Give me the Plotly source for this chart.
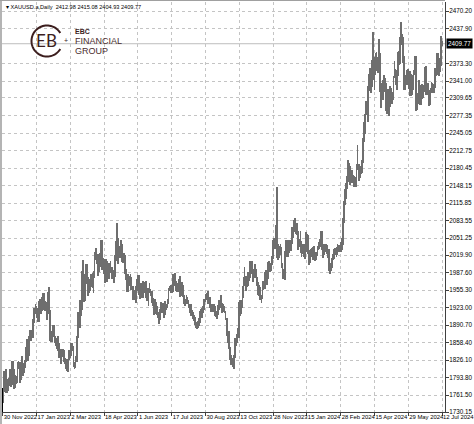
import math
import plotly.graph_objects as go

# ---------------- data (XAUUSD daily) ----------------
symbol = "XAUUSD.a,Daily"
last_ohlc = [2412.98, 2415.08, 2404.93, 2409.77]

date_labels = ["30 Nov 2022", "17 Jan 2023", "2 Mar 2023", "18 Apr 2023", "1 Jun 2023",
               "17 Jul 2023", "30 Aug 2023", "13 Oct 2023", "28 Nov 2023", "15 Jan 2024",
               "28 Feb 2024", "15 Apr 2024", "29 May 2024", "12 Jul 2024"]
bars_per_label = 32

price_ticks = [2470.20, 2437.90, 2373.30, 2341.00, 2309.65, 2277.35, 2245.05, 2212.75,
               2180.45, 2148.15, 2115.85, 2083.55, 2051.25, 2019.90, 1987.60, 1955.30,
               1923.00, 1890.70, 1858.40, 1826.10, 1793.80, 1761.50, 1730.15]

highs = [
    # 30 Nov 2022 -> 17 Jan 2023
    1769, 1805, 1804,
    1810, 1779, 1791, 1793, 1810,
    1799, 1825, 1824, 1809, 1799,
    1797, 1822, 1825, 1823, 1805,
    1833, 1816, 1821, 1826,
    1850, 1865, 1858, 1870,
    1881, 1881, 1882, 1901, 1922,
    1929, 1925,
    # -> 2 Mar 2023
    1923, 1935, 1938,
    1935, 1942, 1949, 1949, 1935,
    1934, 1932, 1952, 1960, 1918,
    1880, 1880, 1890, 1890, 1871,
    1866, 1871, 1858, 1846, 1845,
    1847, 1846, 1845, 1830, 1828,
    1824, 1828, 1845, 1842,
    # -> 18 Apr 2023
    1858,
    1858, 1852, 1823, 1834, 1870,
    1914, 1913, 1937, 1933, 1990,
    2010, 1984, 1972, 2003, 2004,
    1980, 1975, 1974, 1984, 1987,
    1990, 2026, 2032, 2022,
    2021, 2010, 2023, 2048, 2048,
    2014, 2012,
    # -> 1 Jun 2023
    2008, 2013, 2008,
    1995, 2005, 2009, 1998, 1998,
    1993, 2019, 2045, 2079, 2051,
    2025, 2037, 2048, 2040, 2021,
    2023, 2020, 1994, 1985, 1984,
    1982, 1984, 1980, 1963, 1955,
    1950, 1963, 1975, 1983,
    # -> 17 Jul 2023
    1983,
    1964, 1969, 1966, 1972, 1970,
    1965, 1972, 1959, 1959, 1968,
    1958, 1953, 1940, 1935, 1938,
    1934, 1925, 1915, 1911, 1921,
    1933, 1930, 1931, 1922, 1935,
    1930, 1938, 1959, 1963, 1964,
    1957,
    # -> 30 Aug 2023
    1985, 1983, 1987, 1972,
    1967, 1968, 1975, 1982, 1962,
    1970, 1965, 1947, 1938, 1946,
    1943, 1937, 1930, 1929, 1918,
    1915, 1910, 1905, 1897, 1892,
    1898, 1903, 1917, 1921, 1923,
    1925, 1939, 1948,
    # -> 13 Oct 2023
    1949, 1953,
    1943, 1942, 1930, 1925, 1930,
    1930, 1925, 1917, 1916, 1928,
    1937, 1937, 1947, 1931, 1930,
    1926, 1917, 1903, 1880, 1880,
    1850, 1835, 1830, 1826, 1835,
    1866, 1867, 1875, 1885, 1933,
    # -> 28 Nov 2023
    1936, 1936, 1962, 1980, 1997,
    1982, 1978, 1988, 1989, 2009,
    2009, 2008, 1991, 1994, 2004,
    1994, 1979, 1970, 1965, 1961,
    1947, 1971, 1971, 1988, 1993,
    1984, 2007, 2008, 1998, 2006,
    2018, 2048,
    # -> 15 Jan 2024
    2052, 2047, 2075,
    2146, 2040, 2036, 2040, 2035,
    2006, 1994, 2028, 2048, 2047,
    2032, 2047, 2044, 2048, 2071,
    2069, 2084, 2088, 2073,
    2079, 2065, 2050, 2064,
    2045, 2040, 2039, 2040, 2062,
    2059,
    # -> 28 Feb 2024
    2056, 2030, 2025, 2031,
    2033, 2035, 2037, 2024, 2025,
    2036, 2043, 2050, 2065, 2065,
    2040, 2039, 2041, 2041, 2038,
    2031, 2031, 1997, 2006, 2015,
    2022, 2031, 2033, 2035, 2041,
    2039, 2038, 2043,
    # -> 15 Apr 2024
    2052, 2089,
    2119, 2142, 2152, 2165, 2195,
    2189, 2185, 2175, 2176, 2167,
    2165, 2164, 2187, 2223, 2188,
    2176, 2185, 2195, 2236,
    2266, 2281, 2305, 2305, 2331,
    2354, 2365, 2360, 2379, 2431,
    2385,
    # -> 29 May 2024
    2392, 2395, 2386, 2418,
    2392, 2336, 2338, 2342, 2352,
    2346, 2337, 2326, 2326, 2319,
    2331, 2329, 2320, 2351, 2378,
    2364, 2361, 2395, 2397, 2422,
    2450, 2428, 2423, 2387, 2346,
    2352, 2361, 2364,
    # -> 12 Jul 2024
    2349, 2360,
    2354, 2353, 2362, 2388, 2387,
    2314, 2318, 2342, 2325, 2333,
    2335, 2334, 2333, 2366, 2368,
    2336, 2337, 2324, 2329, 2339,
    2338, 2335, 2365, 2364, 2392,
    2393, 2370, 2383, 2424, 2415,
]

lows = [
    # 30 Nov 2022 -> 17 Jan 2023
    1746, 1767, 1781,
    1765, 1765, 1768, 1779, 1787,
    1776, 1780, 1801, 1773, 1775,
    1781, 1784, 1810, 1784, 1790,
    1797, 1796, 1802, 1812,
    1823, 1838, 1825, 1833,
    1866, 1862, 1867, 1867, 1895,
    1911, 1904,
    # -> 2 Mar 2023
    1896, 1897, 1921,
    1911, 1917, 1932, 1918, 1916,
    1916, 1900, 1920, 1911, 1861,
    1860, 1860, 1869, 1857, 1852,
    1847, 1843, 1830, 1829, 1818,
    1835, 1832, 1823, 1819, 1809,
    1805, 1804, 1827, 1830,
    # -> 18 Apr 2023
    1834,
    1842, 1813, 1809, 1812, 1823,
    1866, 1895, 1886, 1907, 1918,
    1965, 1934, 1935, 1966, 1971,
    1944, 1949, 1953, 1960, 1959,
    1950, 1978, 2010, 2004,
    1981, 1989, 1997, 2012, 1992,
    1992, 1985,
    # -> 1 Jun 2023
    1969, 1991, 1970,
    1975, 1975, 1986, 1975, 1975,
    1969, 1979, 2009, 2035, 2004,
    2015, 2014, 2022, 2007, 2006,
    2008, 1985, 1973, 1952, 1952,
    1962, 1956, 1955, 1936, 1937,
    1939, 1932, 1953, 1957,
    # -> 17 Jul 2023
    1946,
    1938, 1955, 1940, 1940, 1955,
    1949, 1940, 1935, 1925, 1950,
    1945, 1932, 1925, 1910, 1911,
    1916, 1910, 1903, 1893, 1900,
    1913, 1920, 1912, 1903, 1910,
    1918, 1923, 1929, 1954, 1950,
    1949,
    # -> 30 Aug 2023
    1952, 1968, 1962, 1953,
    1952, 1952, 1956, 1942, 1945,
    1952, 1942, 1929, 1925, 1929,
    1930, 1922, 1913, 1907, 1910,
    1902, 1899, 1890, 1886, 1884,
    1885, 1889, 1894, 1911, 1904,
    1913, 1918, 1933,
    # -> 13 Oct 2023
    1936, 1930,
    1935, 1922, 1915, 1914, 1915,
    1916, 1908, 1905, 1901, 1909,
    1919, 1926, 1922, 1913, 1915,
    1912, 1900, 1871, 1857, 1846,
    1827, 1816, 1816, 1813, 1810,
    1830, 1852, 1857, 1867, 1867,
    # -> 28 Nov 2023
    1908, 1911, 1922, 1940, 1963,
    1953, 1960, 1962, 1971, 1977,
    1991, 1984, 1970, 1977, 1983,
    1977, 1962, 1947, 1944, 1937,
    1932, 1938, 1955, 1957, 1972,
    1965, 1975, 1989, 1988, 1990,
    2001, 2013,
    # -> 15 Jan 2024
    2035, 2031, 2031,
    2015, 2010, 2015, 2019, 1995,
    1976, 1975, 1973, 2020, 2017,
    2016, 2024, 2030, 2028, 2041,
    2052, 2065, 2063, 2058,
    2057, 2030, 2034, 2024,
    2016, 2022, 2016, 2013, 2026,
    2047,
    # -> 28 Feb 2024
    2021, 2001, 2005, 2021,
    2017, 2011, 2012, 2009, 2011,
    2018, 2030, 2031, 2035, 2030,
    2014, 2020, 2028, 2025, 2021,
    2015, 1990, 1984, 1990, 1996,
    2010, 2013, 2020, 2016, 2020,
    2025, 2026, 2025,
    # -> 15 Apr 2024
    2030, 2038,
    2079, 2112, 2124, 2142, 2154,
    2174, 2150, 2152, 2154, 2152,
    2146, 2146, 2146, 2177, 2157,
    2162, 2170, 2172, 2190,
    2229, 2244, 2278, 2282, 2266,
    2322, 2336, 2319, 2330, 2342,
    2324,
    # -> 29 May 2024
    2353, 2359, 2355, 2368,
    2320, 2291, 2308, 2306, 2326,
    2321, 2285, 2280, 2294, 2277,
    2293, 2309, 2298, 2306, 2346,
    2333, 2325, 2351, 2370, 2373,
    2413, 2408, 2374, 2325, 2325,
    2333, 2335, 2334,
    # -> 12 Jul 2024
    2326, 2314,
    2314, 2316, 2325, 2353, 2286,
    2287, 2298, 2307, 2296, 2297,
    2308, 2309, 2321, 2327, 2316,
    2317, 2315, 2294, 2297, 2318,
    2318, 2318, 2328, 2350, 2353,
    2353, 2350, 2358, 2369, 2405,
]

# ---------------- layout geometry (pixels) ----------------
W, H = 474, 424
PL, PR, PT, PB = 2, 445, 2, 412          # plot area edges in pixels
def PX(x):
    return (x - PL) / (PR - PL)
def PY(y):
    return (PB - y) / (PB - PT)

Y0 = 1730.15
YTOP = 1730.15 + (PB - PT) * (2470.20 - 1730.15) / (PB - 11)

INK = "#3c1e1e"

bars = list(range(len(highs)))
fig = go.Figure()
fig.add_trace(go.Bar(
    x=bars, y=[h - l for h, l in zip(highs, lows)], base=lows,
    width=0.8, marker=dict(color="#6e6e6e", line=dict(width=0)),
    hoverinfo="skip", showlegend=False))

tickfont = dict(family="Liberation Sans, Arial, sans-serif", size=6.3, color="#000000")
xtickfont = dict(family="Liberation Sans, Arial, sans-serif", size=5.9, color="#000000")

fig.update_layout(
    width=W, height=H,
    margin=dict(l=PL, r=W - PR, t=PT, b=H - PB, pad=0),
    paper_bgcolor="white", plot_bgcolor="white",
    showlegend=False, bargap=0,
    xaxis=dict(
        range=[-0.66, 418.8], automargin=False,
        tickvals=[i * bars_per_label for i in range(len(date_labels))],
        ticktext=date_labels, ticks="outside", ticklen=3, tickcolor="#404040",
        ticklabelposition="outside right", ticklabeloverflow="allow",
        ticklabelstandoff=-1, tickangle=0,
        tickfont=xtickfont,
        showgrid=True, gridcolor="#c4c4c4", griddash="dot", gridwidth=1,
        showline=True, linecolor="#404040", linewidth=1, zeroline=False,
    ),
    yaxis=dict(
        range=[Y0, YTOP], automargin=False, side="right",
        tickvals=price_ticks, ticktext=[f"{v:.2f}" for v in price_ticks],
        ticks="outside", ticklen=3, tickcolor="#404040", tickfont=tickfont,
        ticklabeloverflow="allow", ticklabelstandoff=-1,
        showgrid=True, gridcolor="#c4c4c4", griddash="dot", gridwidth=1,
        showline=True, linecolor="#404040", linewidth=1, zeroline=False,
    ),
)

shapes = []
# window frame bits
shapes.append(dict(type="rect", xref="paper", yref="paper", x0=PX(0), x1=PX(2),
                   y0=PY(H), y1=PY(0), fillcolor="#b4b4b4", line=dict(width=0), layer="above"))
shapes.append(dict(type="line", xref="paper", yref="paper", x0=PX(0), x1=PX(PR),
                   y0=PY(0.5), y1=PY(0.5), line=dict(color="#a0a0a0", width=1)))
shapes.append(dict(type="line", xref="paper", yref="paper", x0=PX(2.5), x1=PX(2.5),
                   y0=PY(388), y1=PY(412), line=dict(color="#000000", width=1)))
# current price line
shapes.append(dict(type="line", xref="paper", yref="y", x0=0, x1=1,
                   y0=last_ohlc[3], y1=last_ohlc[3], line=dict(color="#bdbdbd", width=1),
                   layer="below"))

# logo: open ring
cx, cy, r = 47, 41, 15.5
pts = []
for k in range(0, 61):
    a = math.radians(31 + k * (298 / 60))
    pts.append((PX(cx + r * math.cos(a)), PY(cy - r * math.sin(a))))
path = "M " + " L ".join(f"{x:.5f},{y:.5f}" for x, y in pts)
shapes.append(dict(type="path", xref="paper", yref="paper", path=path,
                   line=dict(color=INK, width=2), layer="above"))
fig.update_layout(shapes=shapes)

ann = []
# header text
ann.append(dict(xref="paper", yref="paper", x=PX(4), y=PY(7), xanchor="left", yanchor="middle",
                showarrow=False, text="▾ " + symbol + "  " + " ".join(f"{v:.2f}" for v in last_ohlc),
                font=dict(family="Liberation Sans, Arial", size=5.6, color="#000000")))
# current price tag
ann.append(dict(xref="paper", yref="y", x=1, y=last_ohlc[3], xanchor="left", yanchor="middle",
                xshift=1, showarrow=False, text=f"{last_ohlc[3]:.2f}", bgcolor="#000000",
                borderpad=1, font=dict(family="Liberation Sans, Arial", size=6.3, color="#ffffff")))
# logo letters
ann.append(dict(xref="paper", yref="paper", x=PX(41), y=PY(41), xanchor="center", yanchor="middle",
                showarrow=False, text="E", font=dict(family="Lato, sans-serif", size=17, color=INK)))
ann.append(dict(xref="paper", yref="paper", x=PX(51), y=PY(41), xanchor="center", yanchor="middle",
                showarrow=False, text="B", font=dict(family="Lato, sans-serif", size=17, color=INK)))
ann.append(dict(xref="paper", yref="paper", x=PX(66), y=PY(41), xanchor="center", yanchor="middle",
                showarrow=False, text="+", font=dict(family="Liberation Sans", size=7, color=INK)))
ann.append(dict(xref="paper", yref="paper", x=PX(72.5), y=PY(31.5), xanchor="left", yanchor="middle",
                showarrow=False, text="<b>EBC</b>", font=dict(family="Liberation Sans", size=7, color=INK)))
ann.append(dict(xref="paper", yref="paper", x=PX(72.5), y=PY(41.5), xanchor="left", yanchor="middle",
                showarrow=False, text="FINANCIAL", font=dict(family="Liberation Sans", size=9, color="#4a2c2c")))
ann.append(dict(xref="paper", yref="paper", x=PX(72.5), y=PY(50.5), xanchor="left", yanchor="middle",
                showarrow=False, text="GROUP", font=dict(family="Liberation Sans", size=9, color="#4a2c2c")))
fig.update_layout(annotations=ann)

fig.write_html("out.html",
               config={"displayModeBar": False},
               post_script="document.body.style.margin='0';document.body.style.padding='0';")
